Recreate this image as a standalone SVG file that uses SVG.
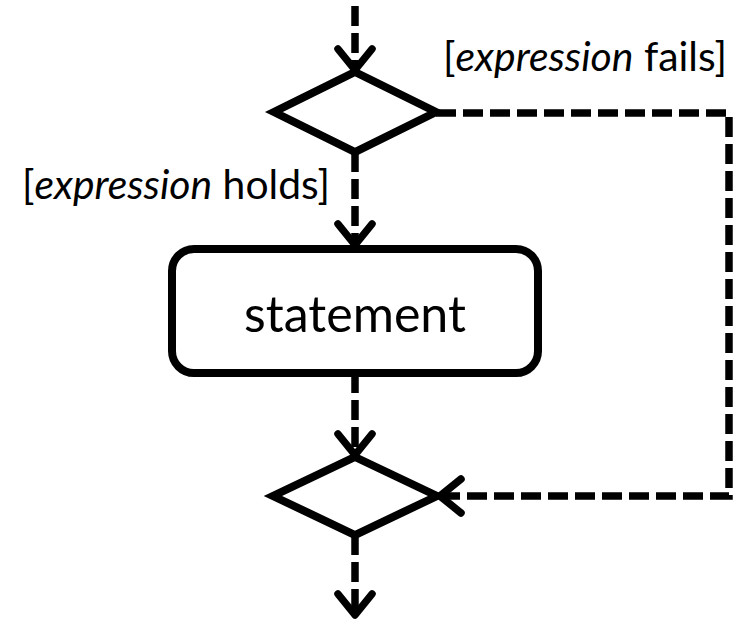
<svg xmlns="http://www.w3.org/2000/svg" width="744" height="624" viewBox="0 0 744 624">
<style>
.shape{fill:#fff;stroke:#000;stroke-width:8;stroke-linejoin:miter}
.conn{fill:none;stroke:#000;stroke-width:7.5;stroke-dasharray:20 7}
.lbl{font-family:Lato,"Open Sans","Liberation Sans",sans-serif;font-size:40px;fill:#000}
.main{font-family:Lato,"Open Sans","Liberation Sans",sans-serif;font-size:50px;fill:#000}
</style>
<defs>
<marker id="arr" markerUnits="userSpaceOnUse" viewBox="-30 -30 60 60" markerWidth="60" markerHeight="60" refX="0" refY="0" orient="auto" overflow="visible">
<path d="M -21 -17 L 0 0 L -21 17" fill="none" stroke="#000" stroke-width="7.5" stroke-linecap="round" stroke-linejoin="round" stroke-dasharray="none"/>
</marker>
</defs>
<rect width="744" height="624" fill="#fff"/>
<g id="connectors">
<path class="conn" d="M355 6 L355 70" marker-end="url(#arr)"/>
<path class="conn" d="M355 152 L355 245" marker-end="url(#arr)"/>
<path class="conn" d="M355 373 L355 455" marker-end="url(#arr)"/>
<path class="conn" d="M436 113 L729 113 L729 496 L440 496" marker-end="url(#arr)"/>
<path class="conn" d="M355 535 L355 615" marker-end="url(#arr)"/>
</g>
<g id="decision1">
<polygon class="shape" points="355,72 436,112 355,152 274,112"/>
</g>
<g id="statement">
<rect class="shape" x="172" y="249" width="366" height="124" rx="22" ry="22"/>
<text class="main" x="355" y="332" text-anchor="middle" textLength="222" lengthAdjust="spacingAndGlyphs">statement</text>
</g>
<g id="merge">
<polygon class="shape" points="355,457 437,496 355,535 273,496"/>
</g>
<g id="label-fails">
<text class="lbl" x="443" y="71" textLength="284" lengthAdjust="spacingAndGlyphs">[<tspan font-style="italic">expression</tspan> fails]</text>
</g>
<g id="label-holds">
<text class="lbl" x="22" y="199" textLength="308" lengthAdjust="spacingAndGlyphs">[<tspan font-style="italic">expression</tspan> holds]</text>
</g>
</svg>
